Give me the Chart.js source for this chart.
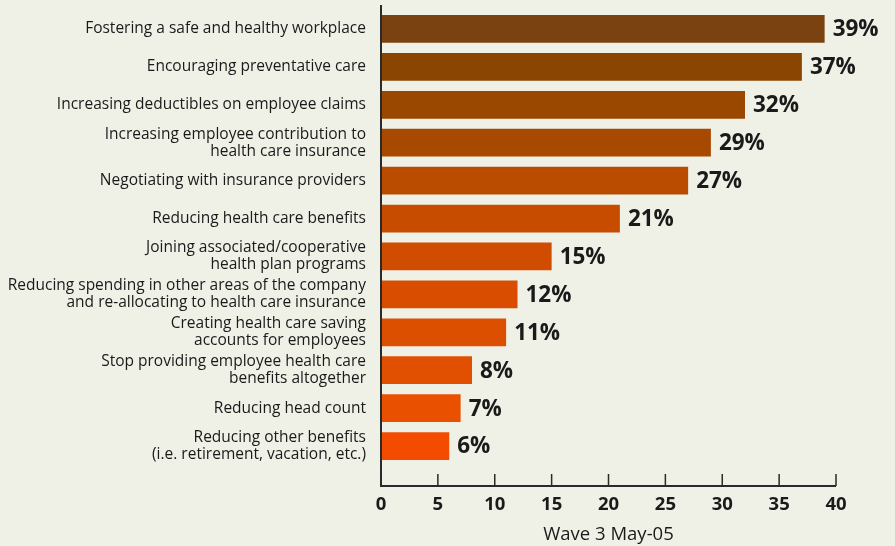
<!DOCTYPE html>
<html>
<head>
<meta charset="utf-8">
<script src="https://cdn.jsdelivr.net/npm/chart.js@4/dist/chart.umd.min.js"></script>
<style>
  html, body { margin: 0; padding: 0; background: #eff1e7; }
  #wrap { width: 895px; height: 546px; }
</style>
</head>
<body>
<div id="wrap"><canvas id="c" width="895" height="546"></canvas></div>
<script>
// Cost-control measures, share of respondents (%)
const categories = [
  "Fostering a safe and healthy workplace",
  "Encouraging preventative care",
  "Increasing deductibles on employee claims",
  ["Increasing employee contribution to", "health care insurance"],
  "Negotiating with insurance providers",
  "Reducing health care benefits",
  ["Joining associated/cooperative", "health plan programs"],
  ["Reducing spending in other areas of the company", "and re-allocating to health care insurance"],
  ["Creating health care saving", "accounts for employees"],
  ["Stop providing employee health care", "benefits altogether"],
  "Reducing head count",
  ["Reducing other benefits", "(i.e. retirement, vacation, etc.)"]
];
const values = [39, 37, 32, 29, 27, 21, 15, 12, 11, 8, 7, 6];
const xTicks = [0, 5, 10, 15, 20, 25, 30, 35, 40];
const axisTitle = "Wave 3 May-05";

const barColors = [
  "#7a4210", "#8b4502", "#9a4700", "#a84900", "#ba4c00", "#c84c00",
  "#d04c00", "#d84d00", "#dc4e00", "#e14f00", "#e95000", "#f34c00"
];

const FONT = "'Open Sans', 'Liberation Sans', sans-serif";
const INK = "#1a1a1a";

// Bar-end value labels
const valueLabels = {
  id: "valueLabels",
  afterDatasetsDraw(chart) {
    const ctx = chart.ctx;
    const meta = chart.getDatasetMeta(0);
    ctx.save();
    ctx.font = "bold 22.5px " + FONT;
    ctx.fillStyle = INK;
    ctx.textAlign = "left";
    ctx.textBaseline = "middle";
    meta.data.forEach((bar, i) => {
      ctx.fillText(values[i] + "%", bar.x + 8, bar.y + 1);
    });
    ctx.restore();
  }
};

// Axis lines with inward tick marks, placed from the scales
const axisFrame = {
  id: "axisFrame",
  afterDraw(chart) {
    const ctx = chart.ctx;
    const x = chart.scales.x;
    const area = chart.chartArea;
    const axisY = area.bottom + 21;
    ctx.save();
    ctx.strokeStyle = "#2a2a2a";
    ctx.lineWidth = 2;
    ctx.beginPath();
    ctx.moveTo(x.getPixelForValue(0), area.top - 5);
    ctx.lineTo(x.getPixelForValue(0), axisY + 1);
    ctx.moveTo(x.getPixelForValue(0), axisY);
    ctx.lineTo(x.getPixelForValue(xTicks[xTicks.length - 1]), axisY);
    ctx.stroke();
    ctx.lineWidth = 1.5;
    ctx.beginPath();
    xTicks.forEach(v => {
      const px = x.getPixelForValue(v);
      ctx.moveTo(px, axisY - 12);
      ctx.lineTo(px, axisY);
    });
    ctx.stroke();
    ctx.restore();
  }
};

new Chart(document.getElementById("c"), {
  type: "bar",
  data: {
    labels: categories,
    datasets: [{
      data: values,
      backgroundColor: barColors,
      borderWidth: 0,
      barPercentage: 0.73,
      categoryPercentage: 1.0
    }]
  },
  options: {
    indexAxis: "y",
    responsive: false,
    animation: false,
    layout: { padding: { top: 10, right: 59, bottom: 0, left: 0 } },
    plugins: {
      legend: { display: false },
      tooltip: { enabled: false }
    },
    scales: {
      y: {
        grid: { display: false, drawTicks: false },
        border: { display: false },
        ticks: {
          color: INK,
          padding: 15,
          autoSkip: false,
          font: { family: FONT, size: 15.5, lineHeight: 1.1 }
        },
        afterFit(scale) {
          scale.width = 381;
          scale.paddingTop = 0;
          scale.paddingBottom = 0;
        }
      },
      x: {
        min: 0,
        max: 40,
        grid: { display: false, drawTicks: false },
        border: { display: false },
        afterBuildTicks(scale) { scale.ticks = xTicks.map(v => ({ value: v })); },
        ticks: {
          color: INK,
          padding: 29,
          autoSkip: false,
          maxRotation: 0,
          font: { family: FONT, size: 18.5, weight: "bold" }
        },
        title: {
          display: true,
          text: axisTitle,
          color: INK,
          padding: { top: 0, bottom: 0 },
          font: { family: FONT, size: 18.5 }
        },
        afterFit(scale) {
          scale.height = 81;
          scale.paddingLeft = 0;
          scale.paddingRight = 0;
        }
      }
    }
  },
  plugins: [valueLabels, axisFrame]
});
</script>
</body>
</html>
